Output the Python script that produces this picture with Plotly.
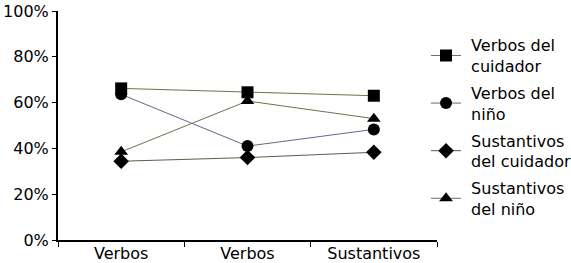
import plotly.graph_objects as go

categories = ["Verbos", "Verbos", "Sustantivos"]
series_names = ["Verbos del<br>cuidador", "Verbos del<br>niño", "Sustantivos<br>del cuidador", "Sustantivos<br>del niño"]
verbos_cuidador = [0.662, 0.645, 0.630]
verbos_nino = [0.636, 0.410, 0.483]
sust_cuidador = [0.344, 0.360, 0.383]
sust_nino = [0.385, 0.607, 0.530]
y_ticks = [0, 0.2, 0.4, 0.6, 0.8, 1.0]

series = [verbos_cuidador, verbos_nino, sust_cuidador, sust_nino]
symbols = ["square", "circle", "diamond", "triangle-up"]
line_colors = ["#707052", "#65658a", "#5e5e46", "#707052"]
x_pos = [1, 2, 3]

fig = go.Figure()
for i, (name, vals, sym, lc) in enumerate(zip(series_names, series, symbols, line_colors)):
    nm = "<br>".join("\u00a0" + part for part in name.split("<br>"))
    fig.add_trace(go.Scatter(
        x=x_pos, y=vals, name=nm, mode="lines+markers", legendgroup=f"g{i}",
        line=dict(color=lc, width=1),
        marker=dict(symbol=sym, size=12, color="black"),
    ))

font = dict(family="DejaVu Sans", size=16, color="black")
fig.update_layout(
    width=571, height=263,
    margin=dict(l=58, r=134, t=11, b=23, autoexpand=False),
    paper_bgcolor="white", plot_bgcolor="white",
    font=font,
    showlegend=True,
    legend=dict(x=0.971, xanchor="left", y=0.925, yanchor="top",
                font=font, bgcolor="rgba(0,0,0,0)", tracegroupgap=3),
    xaxis=dict(range=[0.5, 3.5], tickmode="array", tickvals=x_pos, ticktext=categories,
               ticks="", showgrid=False, zeroline=False, automargin=False,
               showline=True, linecolor="black", linewidth=2, ticklabelstandoff=-2,
               minor=dict(tick0=0.5, dtick=1, ticks="outside", ticklen=5, tickcolor="black", tickwidth=1, showgrid=False),
               tickfont=font),
    yaxis=dict(range=[0, 1], tickmode="array", tickvals=y_ticks, tickformat=".0%",
               ticks="outside", ticklen=4, tickcolor="black", tickwidth=1,
               showgrid=False, zeroline=False, automargin=False,
               showline=True, linecolor="black", linewidth=2,
               tickfont=font),
)

fig.write_html("out.html", config={"displayModeBar": False},
               post_script="document.body.style.margin='0';")
